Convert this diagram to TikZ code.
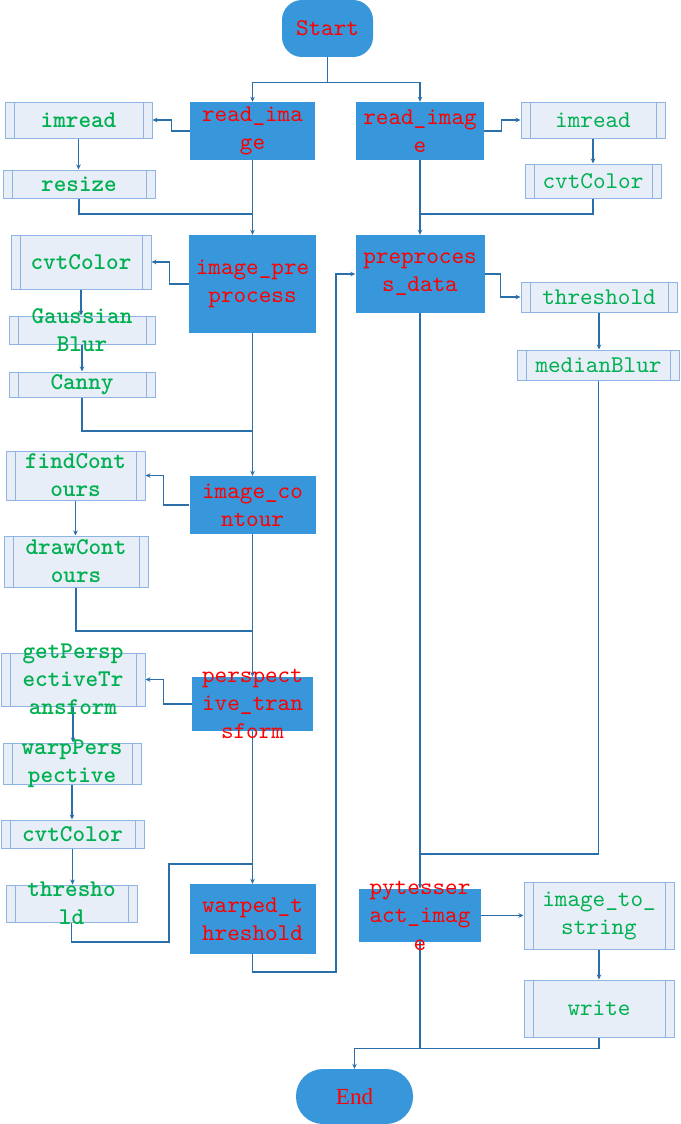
\documentclass[tikz,border=0pt]{standalone}
\usepackage{fontspec}
\usetikzlibrary{arrows.meta}
\setmainfont{Liberation Serif}
\newfontfamily\monofont{lmmono10-regular.otf}
\newfontfamily\monoboldfont{lmmonolt10-bold.otf}

\definecolor{boxblue}{HTML}{3797DA}
\definecolor{subfill}{HTML}{E8EEF8}
\definecolor{subline}{HTML}{8DB4E2}
\definecolor{linkblue}{HTML}{2A6EAA}
\definecolor{txtred}{HTML}{FF0000}
\definecolor{txtgreen}{HTML}{00B050}

\tikzset{
  dark/.style={fill=boxblue, draw=none, inner sep=0pt},
  term/.style={dark, rounded corners=#1},
  sub/.style={fill=subfill, draw=subline, line width=1pt, inner sep=0pt,
    path picture={\draw[subline, line width=1pt]
      ([xshift=9pt]path picture bounding box.north west) -- ([xshift=9pt]path picture bounding box.south west)
      ([xshift=-9pt]path picture bounding box.north east) -- ([xshift=-9pt]path picture bounding box.south east);}},
  conn/.style={draw=linkblue, line width=1.2pt},
  arr/.style={conn, -{Stealth[length=5pt,width=4.5pt]}},
  ptext/.style={text=txtred, font=\monofont\fontsize{24}{28}\selectfont, align=center, inner sep=0pt},
  gbold/.style={text=txtgreen, font=\monoboldfont\fontsize{24}{28}\selectfont, align=center, inner sep=0pt},
  gthin/.style={text=txtgreen, font=\monofont\fontsize{24}{28}\selectfont, align=center, inner sep=0pt},
}

\begin{document}
\begin{tikzpicture}[x=1pt,y=-1pt]
\fill[white] (0,0) rectangle (680,1124);
\useasboundingbox (0,0) rectangle (680,1124);

% terminals and main steps
\node[term=20pt, minimum width=91pt, minimum height=57pt] (start) at (327.5,28.5) {};
\node[term=27pt, minimum width=117pt, minimum height=55pt] (end) at (354.5,1096.5) {};
\node[dark, minimum width=125pt, minimum height=58pt] (ri1) at (252.5,131) {};
\node[dark, minimum width=128pt, minimum height=58pt] (ri2) at (420,131) {};
\node[dark, minimum width=127pt, minimum height=98pt] (ipp) at (252.5,284) {};
\node[dark, minimum width=129pt, minimum height=78pt] (ppd) at (420,274) {};
\node[dark, minimum width=126pt, minimum height=58pt] (ico) at (252.5,505) {};
\node[dark, minimum width=121pt, minimum height=54pt] (ptf) at (252.5,704) {};
\node[dark, minimum width=126pt, minimum height=70pt] (wth) at (252.5,919) {};
\node[dark, minimum width=122pt, minimum height=53pt] (pyt) at (420,915.5) {};

% library calls
\node[sub, minimum width=147pt, minimum height=36pt] (imr1) at (78.5,120) {};
\node[sub, minimum width=152pt, minimum height=28pt] (rsz) at (79,184) {};
\node[sub, minimum width=144pt, minimum height=36pt] (imr2) at (593,120) {};
\node[sub, minimum width=136pt, minimum height=34pt] (cvt1) at (593,181) {};
\node[sub, minimum width=140pt, minimum height=54pt] (cvt2) at (81,262) {};
\node[sub, minimum width=146pt, minimum height=28pt] (gau) at (82,330) {};
\node[sub, minimum width=146pt, minimum height=25pt] (can) at (82,384.5) {};
\node[sub, minimum width=156pt, minimum height=30pt] (thr1) at (599,297) {};
\node[sub, minimum width=162pt, minimum height=30pt] (med) at (598.5,365) {};
\node[sub, minimum width=139pt, minimum height=49pt] (fnd) at (75.5,475.5) {};
\node[sub, minimum width=144pt, minimum height=51pt] (drw) at (76,561.5) {};
\node[sub, minimum width=144pt, minimum height=53pt] (gpt) at (73,679.5) {};
\node[sub, minimum width=138pt, minimum height=41pt] (wpp) at (72,763.5) {};
\node[sub, minimum width=143pt, minimum height=28pt] (cvt3) at (72.5,834) {};
\node[sub, minimum width=131pt, minimum height=37pt] (thr2) at (71.5,903.5) {};
\node[sub, minimum width=150pt, minimum height=67pt] (its) at (599,915.5) {};
\node[sub, minimum width=150pt, minimum height=57pt] (wrt) at (599,1008.5) {};

% junction points
\coordinate (j1) at (252.5,214);
\coordinate (j2) at (420,214);
\coordinate (j3) at (252.5,431);
\coordinate (j4) at (252.5,631);
\coordinate (j5) at (252.5,864);
\coordinate (c1) at (169,942);
\coordinate (c2) at (336,972);
\coordinate (j6) at (420,854);
\coordinate (j7) at (420,1048);

% connectors
\draw[arr] (start.south) -- ++(0,25) -| (ri1.north);
\draw[arr] (start.south) -- ++(0,25) -| (ri2.north);
\draw[arr] (ri1.west) -- ++(-18,0) |- (imr1.east);
\draw[arr] (imr1.south) -- (imr1.south |- rsz.north);
\draw[conn] (rsz.south) |- (j1);
\draw[arr] (ri1.south) -- (ipp.north);
\draw[arr] (ri2.east) -- ++(17,0) |- (imr2.west);
\draw[arr] (imr2.south) -- (cvt1.north);
\draw[conn] (cvt1.south) |- (j2);
\draw[arr] (ri2.south) -- (ppd.north);
\draw[arr] (ipp.west) -- ++(-19,0) |- (cvt2.east);
\draw[arr] (cvt2.south) -- (cvt2.south |- gau.north);
\draw[arr] (gau.south) -- (can.north);
\draw[conn] (can.south) |- (j3);
\draw[arr] (ipp.south) -- (ico.north);
\draw[arr] (ico.west) -- ++(-26,0) |- (fnd.east);
\draw[arr] (fnd.south) -- (fnd.south |- drw.north);
\draw[conn] (drw.south) |- (j4);
\draw[arr] (ico.south) -- (ptf.north);
\draw[arr] (ptf.west) -- ++(-28,0) |- (gpt.east);
\draw[arr] (gpt.south) -- (gpt.south |- wpp.north);
\draw[arr] (wpp.south) -- (wpp.south |- cvt3.north);
\draw[arr] (cvt3.south) -- (cvt3.south |- thr2.north);
\draw[conn] (thr2.south) |- (c1) |- (j5);
\draw[arr] (ptf.south) -- (wth.north);
\draw[arr] (wth.south) |- (c2) |- (ppd.west);
\draw[arr] (ppd.east) -- ++(16,0) |- (thr1.west);
\draw[arr] (thr1.south) -- (thr1.south |- med.north);
\draw[conn] (med.south) |- (j6);
\draw[arr] (ppd.south) -- (pyt.north);
\draw[arr] (pyt.east) -- (its.west);
\draw[arr] (its.south) -- (wrt.north);
\draw[arr] (wrt.south) -- ++(0,11) -| (end.north);
\draw[conn] (pyt.south) -- (j7);

% texts
\node[ptext] (startt) at (start) {Start};
\node[text=txtred, font=\fontsize{23}{28}\selectfont, inner sep=0pt] (endt) at (end) {End};
\node[ptext] (ri1t) at (ri1) {read\_ima\\ge};
\node[ptext] (ri2t) at (ri2) {read\_imag\\e};
\node[ptext] (ippt) at (ipp) {image\_pre\\process};
\node[ptext] (ppdt) at (ppd) {preproces\\s\_data};
\node[ptext] (icot) at (ico) {image\_co\\ntour};
\node[ptext] (ptft) at (ptf) {perspect\\ive\_tran\\sform};
\node[ptext] (wtht) at (wth) {warped\_t\\hreshold};
\node[ptext] (pytt) at (pyt) {pytesser\\act\_imag\\e};

\node[gbold] (imr1t) at (imr1) {imread};
\node[gbold] (rszt) at (rsz) {resize};
\node[gthin] (imr2t) at (imr2) {imread};
\node[gthin] (cvt1t) at (cvt1) {cvtColor};
\node[gbold] (cvt2t) at (cvt2) {cvtColor};
\node[gbold] (gaut) at (gau) {Gaussian\\Blur};
\node[gbold] (cant) at (can) {Canny};
\node[gthin] (thr1t) at (thr1) {threshold};
\node[gthin] (medt) at (med) {medianBlur};
\node[gbold] (fndt) at (fnd) {findCont\\ours};
\node[gbold] (drwt) at (drw) {drawCont\\ours};
\node[gbold] (gptt) at (gpt) {getPersp\\ectiveTr\\ansform};
\node[gbold] (wppt) at (wpp) {warpPers\\pective};
\node[gbold] (cvt3t) at (cvt3) {cvtColor};
\node[gbold] (thr2t) at (thr2) {thresho\\ld};
\node[gthin] (itst) at (its) {image\_to\_\\string};
\node[gthin] (wrtt) at (wrt) {write};
\end{tikzpicture}
\end{document}
